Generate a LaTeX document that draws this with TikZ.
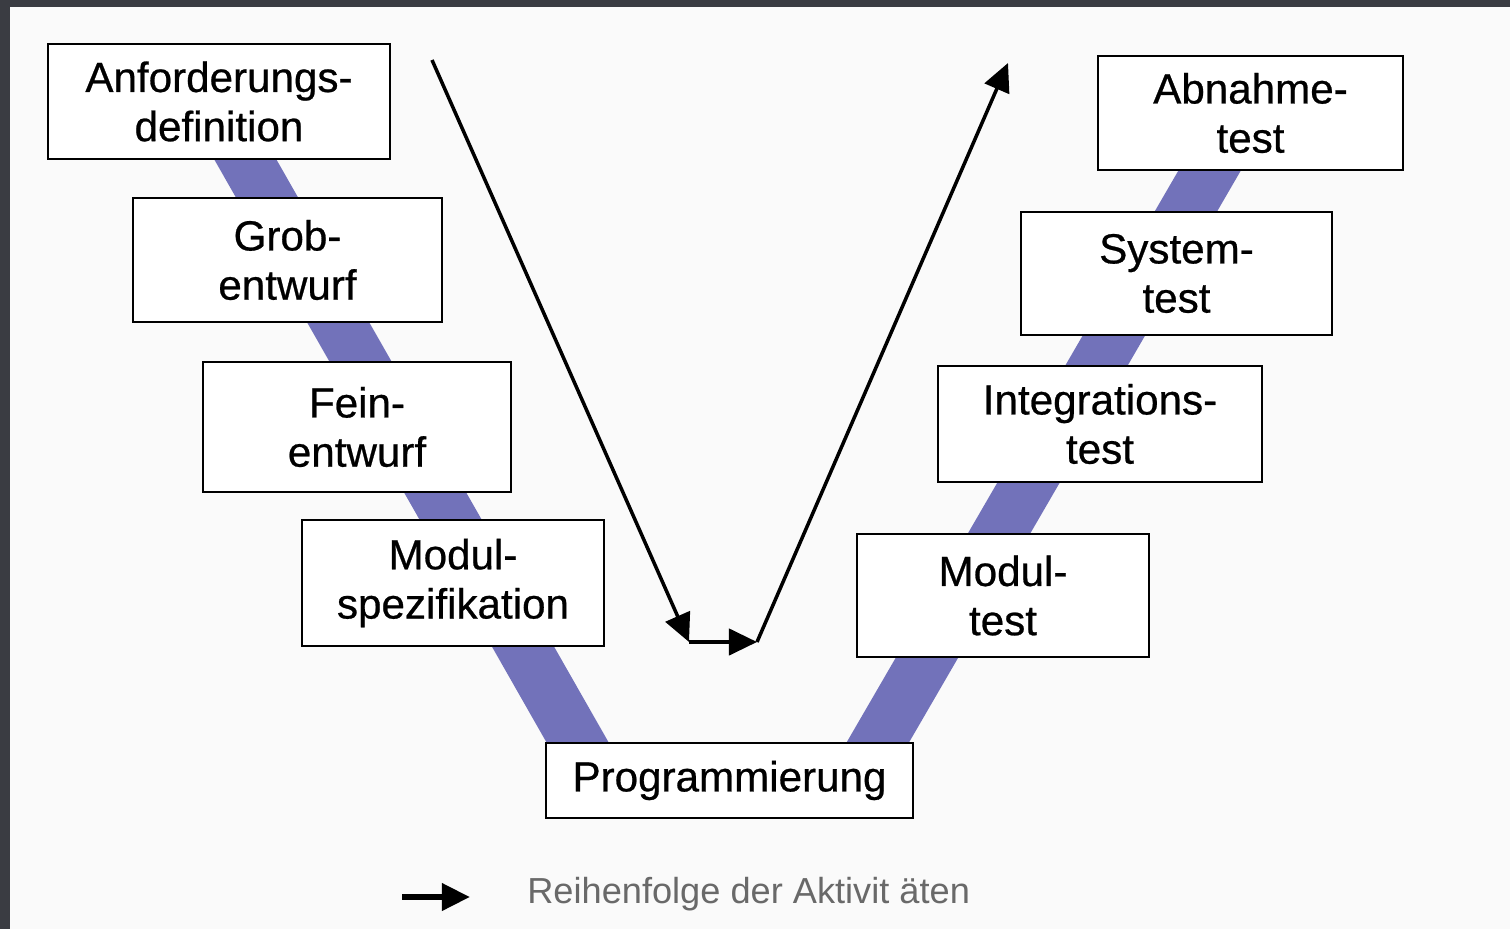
\documentclass[tikz,border=0pt]{standalone}
\usepackage{fontspec}
\setmainfont{Liberation Sans}
\newfontfamily\phasefont{Liberation Sans}[FakeBold=0.6]
\usetikzlibrary{arrows.meta}
\definecolor{bandblue}{RGB}{114,114,186}
\definecolor{framegray}{RGB}{58,60,66}
\definecolor{legendgray}{RGB}{105,105,105}

\begin{document}
\begin{tikzpicture}[x=0.02cm,y=-0.02cm,
  phase/.style={draw=black,line width=1.6pt,fill=white,align=center,
    inner sep=0pt,font=\phasefont\fontsize{24}{28}\selectfont},
  band/.style={draw=bandblue,line width=1.08cm},
  flow/.style={draw=black,line width=2pt,-{Triangle[length=16pt,width=15pt]}}]

  \useasboundingbox (0,0) rectangle (1510,929);

  %draw frame
  \fill[framegray] (0,0) rectangle (1510,929);
  \fill[white!98!black] (10,7) rectangle (1510,929);

  %draw bands
  \coordinate (lbtop) at (212,101);
  \coordinate (lbbot) at (599,780);
  \coordinate (rbtop) at (1243,113);
  \coordinate (rbbot) at (856,780);
  \draw[band] (lbtop) -- (lbbot);
  \draw[band] (rbtop) -- (rbbot);

  %draw left nodes
  \node[phase,minimum width=6.84cm,minimum height=2.30cm] (anf) at (219,101.5) {Anforderungs-\\definition};
  \node[phase,minimum width=6.18cm,minimum height=2.48cm] (grob) at (287.5,260) {Grob-\\entwurf};
  \node[phase,minimum width=6.16cm,minimum height=2.60cm] (fein) at (357,427) {Fein-\\entwurf};
  \node[phase,minimum width=6.04cm,minimum height=2.52cm] (modspez) at (453,583) {Modul-\\spezifikation};

  %draw bottom node
  \node[phase,minimum width=7.34cm,minimum height=1.50cm] (prog) at (729.5,780.5) {Programmierung};

  %draw right nodes
  \node[phase,minimum width=5.84cm,minimum height=2.46cm] (modtest) at (1003,595.5) {Modul-\\test};
  \node[phase,minimum width=6.48cm,minimum height=2.32cm] (integ) at (1100,424) {Integrations-\\test};
  \node[phase,minimum width=6.22cm,minimum height=2.46cm] (sys) at (1176.5,273.5) {System-\\test};
  \node[phase,minimum width=6.10cm,minimum height=2.28cm] (abn) at (1250.5,113) {Abnahme-\\test};

  %draw arrows
  \coordinate (vstart) at (432,60);
  \coordinate (vleft) at (689,642);
  \coordinate (vright) at (757,642);
  \coordinate (vend) at (1008,63);
  \draw[flow] (vstart) -- (vleft);
  \draw[flow] (vleft) -- (vright);
  \draw[flow] (vright) -- (vend);

  %draw legend
  \coordinate (legstart) at (402,897);
  \coordinate (legtip) at (470,897);
  \draw[flow,line width=3.4pt] (legstart) -- (legtip);
  \node[anchor=base west,inner sep=0pt,text=legendgray,font=\fontsize{20.6}{24}\selectfont] (legtxt) at (527,903) {Reihenfolge der Aktivit äten};
\end{tikzpicture}
\end{document}
